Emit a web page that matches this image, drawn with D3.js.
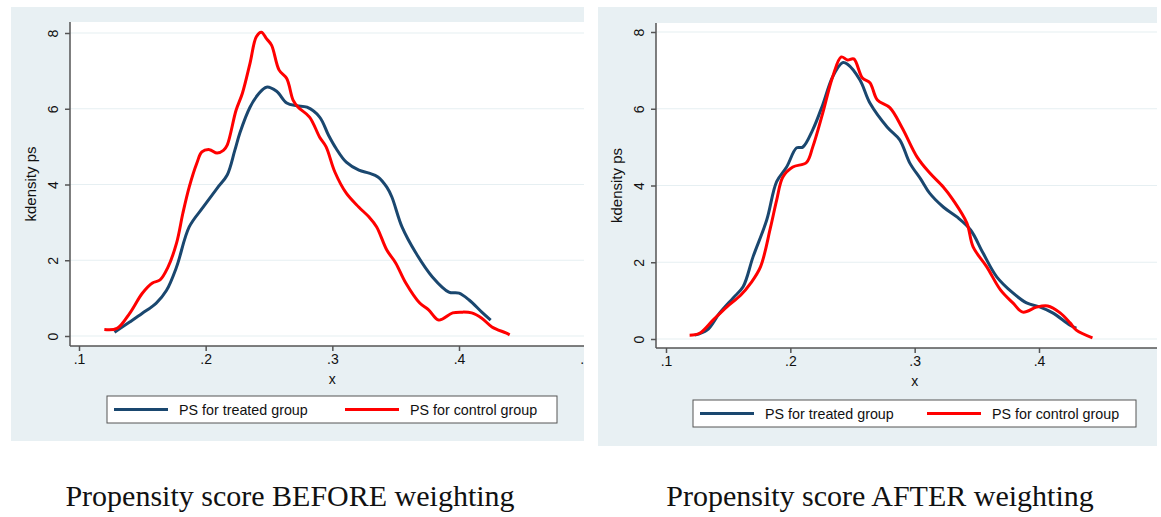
<!DOCTYPE html>
<html>
<head>
<meta charset="utf-8">
<script src="https://cdn.jsdelivr.net/npm/d3@7"></script>
<style>
  body { margin: 0; background: #fff; }
  svg { display: block; }
</style>
</head>
<body>
<div id="chart"></div>
<script>

// series names, captions and tick values
var seriesNames = ["PS for treated group", "PS for control group"]
var captions = ["Propensity score BEFORE weighting", "Propensity score AFTER weighting"]
var xTicksBefore = [0.1, 0.2, 0.3, 0.4, 0.5]
var xTicksAfter = [0.1, 0.2, 0.3, 0.4]
var yTicks = [0, 2, 4, 6, 8]

// kdensity values: [x, density]
var beforeTreated = [[0.128,0.10],[0.140,0.37],[0.150,0.60],[0.161,0.87],[0.169,1.20],[0.177,1.82],[0.187,2.88],
  [0.198,3.40],[0.209,3.90],[0.217,4.25],[0.223,4.90],[0.227,5.36],[0.235,6.04],[0.242,6.40],[0.248,6.57],
  [0.256,6.46],[0.264,6.15],[0.272,6.08],[0.280,6.04],[0.290,5.78],[0.297,5.30],[0.303,4.95],[0.311,4.59],
  [0.321,4.38],[0.329,4.30],[0.336,4.20],[0.343,3.93],[0.347,3.67],[0.355,2.88],[0.366,2.19],[0.379,1.56],
  [0.392,1.16],[0.400,1.13],[0.408,0.95],[0.418,0.63],[0.425,0.42]]

var beforeControl = [[0.120,0.17],[0.130,0.20],[0.140,0.60],[0.150,1.13],[0.158,1.40],[0.164,1.48],[0.170,1.80],
  [0.177,2.45],[0.182,3.24],[0.187,3.93],[0.193,4.56],[0.197,4.86],[0.203,4.92],[0.209,4.83],[0.214,4.90],
  [0.217,5.04],[0.224,5.96],[0.229,6.41],[0.235,7.20],[0.240,7.90],[0.244,8.02],[0.248,7.85],[0.252,7.68],
  [0.258,7.02],[0.264,6.80],[0.269,6.23],[0.273,6.04],[0.282,5.78],[0.290,5.25],[0.295,5.00],[0.302,4.33],
  [0.311,3.77],[0.321,3.40],[0.329,3.14],[0.335,2.88],[0.343,2.27],[0.350,1.93],[0.358,1.40],[0.369,0.87],
  [0.376,0.69],[0.384,0.42],[0.395,0.61],[0.402,0.63],[0.410,0.61],[0.418,0.47],[0.426,0.24],[0.437,0.08],
  [0.440,0.03]]

var afterTreated = [[0.123,0.10],[0.133,0.23],[0.143,0.67],[0.154,1.07],[0.162,1.36],[0.170,2.14],[0.181,3.10],
  [0.189,4.10],[0.197,4.48],[0.205,4.98],[0.210,5.00],[0.218,5.45],[0.226,6.10],[0.234,6.83],[0.242,7.20],
  [0.246,7.16],[0.256,6.75],[0.264,6.15],[0.278,5.52],[0.288,5.19],[0.296,4.59],[0.305,4.16],[0.312,3.80],
  [0.323,3.44],[0.334,3.18],[0.345,2.84],[0.355,2.24],[0.366,1.62],[0.379,1.20],[0.390,0.94],[0.401,0.83],
  [0.411,0.68],[0.425,0.36],[0.430,0.28]]

var afterControl = [[0.119,0.10],[0.127,0.15],[0.138,0.50],[0.149,0.84],[0.160,1.14],[0.168,1.45],[0.176,1.88],
  [0.184,2.90],[0.189,3.62],[0.194,4.22],[0.202,4.48],[0.213,4.60],[0.218,5.00],[0.226,5.88],[0.234,6.83],
  [0.241,7.35],[0.246,7.27],[0.251,7.30],[0.258,6.80],[0.264,6.68],[0.270,6.23],[0.280,6.03],[0.290,5.50],
  [0.302,4.74],[0.312,4.33],[0.323,3.96],[0.331,3.62],[0.342,3.02],[0.347,2.40],[0.358,1.88],[0.369,1.28],
  [0.379,0.94],[0.387,0.70],[0.398,0.83],[0.407,0.86],[0.417,0.68],[0.425,0.42],[0.430,0.23],[0.443,0.03]]

var colors = ["#1a476f", "#ff0000"]

var W = 1161, H = 517
var svg = d3.select("#chart").append("svg")
    .attr("width", W)
    .attr("height", H)

// layout of the two Stata graphs
var panels = [
  {id: "before", bgL: 11, bgT: 7, bgR: 584, bgB: 441, plotL: 70, plotT: 22, plotB: 346,
   xPx: [79, 459], yPx: [336, 33], legL: 107, legR: 557, legT: 396, legB: 423,
   leg2: 345, capX: 290, xTicks: xTicksBefore, data: [beforeTreated, beforeControl], caption: captions[0]},
  {id: "after", bgL: 598, bgT: 7, bgR: 1157, bgB: 446, plotL: 656, plotT: 23, plotB: 348,
   xPx: [666, 1039], yPx: [339, 32], legL: 693, legR: 1136, legT: 400, legB: 427,
   leg2: 927, capX: 880, xTicks: xTicksAfter, data: [afterTreated, afterControl], caption: captions[1]}
]

var fmtTick = function(v){ return d3.format(".1f")(v).replace(/^0/, "") }
var sans = "'Liberation Sans', Arial, sans-serif"

panels.forEach(function(p){

  svg.append("clipPath").attr("id", "clip-" + p.id)
    .append("rect")
      .attr("x", p.bgL).attr("y", p.bgT)
      .attr("width", p.bgR - p.bgL).attr("height", p.bgB - p.bgT)

  var g = svg.append("g").attr("clip-path", "url(#clip-" + p.id + ")")

  // graph region
  g.append("rect")
    .attr("x", p.bgL).attr("y", p.bgT)
    .attr("width", p.bgR - p.bgL).attr("height", p.bgB - p.bgT)
    .style("fill", "#e8f0f3")

  // plot region
  g.append("rect")
    .attr("x", p.plotL).attr("y", p.plotT)
    .attr("width", p.bgR - p.plotL).attr("height", p.plotB - p.plotT)
    .style("fill", "#fff")

  var x = d3.scaleLinear().domain([0.1, 0.4]).range(p.xPx)
  var y = d3.scaleLinear().domain([0, 8]).range(p.yPx)

  // grid lines
  g.selectAll(".grid")
    .data(yTicks)
    .enter()
    .append("line")
      .attr("x1", p.plotL).attr("x2", p.bgR)
      .attr("y1", function(d){ return y(d) })
      .attr("y2", function(d){ return y(d) })
      .style("stroke", "#e6eff2")
      .style("stroke-width", 1.2)

  // y axis, labels turned like Stata does
  var yAxis = g.append("g")
    .attr("transform", "translate(" + p.plotL + ",0)")
    .call(d3.axisLeft(y).tickValues(yTicks).tickSize(5).tickPadding(5).tickFormat(d3.format("d")))
  yAxis.select(".domain").attr("d", "M0," + p.plotT + "V" + p.plotB)
  yAxis.selectAll(".tick text")
    .attr("x", 0)
    .attr("transform", "translate(-17,0) rotate(-90)")
    .attr("dy", "0.35em")
    .style("text-anchor", "middle")

  // x axis
  var xAxis = g.append("g")
    .attr("transform", "translate(0," + p.plotB + ")")
    .call(d3.axisBottom(x).tickValues(p.xTicks).tickSize(5).tickPadding(3).tickFormat(fmtTick))
  xAxis.select(".domain").attr("d", "M" + p.plotL + ",0H" + p.bgR)

  g.selectAll(".domain, .tick line")
    .style("stroke", "#555")
    .style("stroke-width", 1.5)
  g.selectAll(".tick text")
    .style("font-family", sans)
    .style("font-size", "14px")
    .style("fill", "#111")

  // axis titles
  g.append("text")
    .attr("x", x(0.3))
    .attr("y", p.plotB + 38)
    .text("x")
    .style("font-family", sans)
    .style("font-size", "14px")
    .style("text-anchor", "middle")
    .style("fill", "#111")

  g.append("text")
    .attr("transform", "translate(" + (p.plotL - 34) + "," + ((p.plotT + p.plotB) / 2) + ") rotate(-90)")
    .text("kdensity ps")
    .style("font-family", sans)
    .style("font-size", "15px")
    .style("text-anchor", "middle")
    .style("fill", "#111")

  // density lines
  var line = d3.line()
    .x(function(d){ return x(d[0]) })
    .y(function(d){ return y(d[1]) })
    .curve(d3.curveCatmullRom)

  g.selectAll(".kline")
    .data(p.data)
    .enter()
    .append("path")
      .attr("d", line)
      .style("fill", "none")
      .style("stroke", function(d, i){ return colors[i] })
      .style("stroke-width", 3)
      .style("stroke-linejoin", "round")

  // legend
  g.append("rect")
    .attr("x", p.legL).attr("y", p.legT)
    .attr("width", p.legR - p.legL).attr("height", p.legB - p.legT)
    .style("fill", "#fff")
    .style("stroke", "#555")
    .style("stroke-width", 1)

  var legY = (p.legT + p.legB) / 2
  var legX = [p.legL + 7, p.leg2]
  seriesNames.forEach(function(name, i){
    g.append("line")
      .attr("x1", legX[i]).attr("x2", legX[i] + 54)
      .attr("y1", legY).attr("y2", legY)
      .style("stroke", colors[i])
      .style("stroke-width", 3)
    g.append("text")
      .attr("x", legX[i] + 65)
      .attr("y", legY)
      .attr("dy", "0.36em")
      .text(name)
      .style("font-family", sans)
      .style("font-size", "14.3px")
      .style("fill", "#111")
  })

  // caption under each graph
  svg.append("text")
    .attr("x", p.capX)
    .attr("y", 506)
    .text(p.caption)
    .style("font-family", "'Liberation Serif', 'Times New Roman', serif")
    .style("font-size", "30px")
    .style("text-anchor", "middle")
    .style("fill", "#111")
})

</script>
</body>
</html>
